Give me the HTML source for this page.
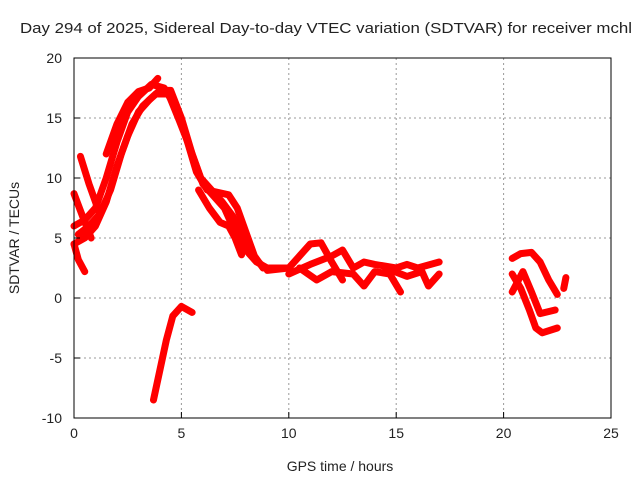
<!DOCTYPE html>
<html><head><meta charset="utf-8"><style>
body{margin:0;background:#fff}
svg text{font-family:"Liberation Sans",sans-serif;font-size:14px;fill:#222}
</style></head><body>
<svg width="640" height="480" xmlns="http://www.w3.org/2000/svg">
<rect width="640" height="480" fill="#fff"/>
<text x="20" y="33" textLength="612" lengthAdjust="spacingAndGlyphs" style="font-size:15px">Day 294 of 2025, Sidereal Day-to-day VTEC variation (SDTVAR) for receiver mchl</text>
<g id="grid"></g>
<g id="series"></g>
<rect x="74" y="58" width="537" height="360" fill="none" stroke="#000" stroke-width="1"/>
<g id="ticks"></g>
<text x="340" y="471" text-anchor="middle">GPS time / hours</text>
<text transform="translate(19,238) rotate(-90)" text-anchor="middle">SDTVAR / TECUs</text>
</svg>
<script>
const xTicks=[0,5,10,15,20,25];
const yTicks=[-10,-5,0,5,10,15,20];
const trackA=[[0,4.5],[0.5,5],[1,6],[1.5,8],[2,11],[2.5,13.5],[3,15.5],[3.5,16.5],[4,17.3],[4.5,17.3],[5,15],[5.5,12],[6,9.5],[6.5,8.5],[7,7.5],[7.5,5.5],[8,4],[8.5,3],[9,2.5],[9.5,2.5],[10,2.5]];
const trackB=[[0,6],[0.5,6.5],[1,7.5],[1.5,10],[2,13],[2.5,15.5],[3,16.8],[3.6,17.8],[4.2,17.5],[4.7,16],[5.2,13.5],[5.7,10.5],[6.2,9],[6.7,8.8],[7.2,8.6],[7.6,7.5],[8,5.5],[8.4,3.5],[8.8,2.5]];
const trackB2=[[0.2,5.3],[0.7,6],[1.2,7],[1.7,9],[2.2,12],[2.7,14.5],[3.2,16],[3.8,17],[4.4,17],[4.9,14.8],[5.4,12.5],[5.9,10],[6.4,9],[6.9,8],[7.4,6.8],[7.9,5],[8.3,3.5],[8.7,2.8]];
const trackC=[[1.5,12],[2,14.5],[2.5,16.3],[3,17.2],[3.5,17.5],[3.9,18.3]];
const trackD=[[0.3,11.8],[0.7,9.5],[1,8],[1.2,7]];
const trackE=[[0,8.7],[0.4,6.8],[0.8,5]];
const trackF=[[0,4.5],[0.2,3.2],[0.5,2.2]];
const trackG=[[3.7,-8.5],[4,-6],[4.3,-3.5],[4.6,-1.5],[5,-0.7],[5.5,-1.2]];
const trackH=[[5.8,9],[6.3,7.5],[6.8,6.3],[7.2,6],[7.5,5],[7.8,3.6]];
const trackI=[[9,2.3],[10,2.5],[10.5,3.5],[11,4.5],[11.5,4.6],[12,3],[12.5,1.5]];
const trackJ=[[10,2],[11,2.8],[12,3.5],[12.5,4],[13,2.5],[13.5,3],[14,2.8],[15,2.5],[15.5,2.8],[16,2.5],[17,3]];
const trackK=[[10.5,2.5],[11.3,1.5],[12,2.2],[13,2],[13.5,1],[14,2.2],[14.7,2],[15.2,0.5]];
const trackL=[[14.5,2.5],[15.5,1.8],[16.2,2.2],[16.5,1],[17,2]];
const trackM=[[20.4,3.3],[20.8,3.7],[21.3,3.8],[21.7,3],[22.1,1.5],[22.5,0.3]];
const trackN=[[20.4,2],[20.8,0.8],[21.2,-1],[21.5,-2.5],[21.8,-2.9],[22.5,-2.5]];
const trackO=[[20.4,0.5],[20.9,2.2],[21.3,0.5],[21.7,-1.3],[22.4,-1]];
const trackP=[[22.8,0.8],[22.9,1.7]];
const tracks=[trackA,trackB,trackB2,trackC,trackD,trackE,trackF,trackG,trackH,trackI,trackJ,trackK,trackL,trackM,trackN,trackO,trackP];
const X0=74,X1=611,Y0=418,Y1=58;
const sx=v=>X0+(v-0)/(25-0)*(X1-X0);
const sy=v=>Y0-(v+10)/(30)*(Y0-Y1);
const NS='http://www.w3.org/2000/svg';
const grid=document.getElementById('grid'),ticks=document.getElementById('ticks'),ser=document.getElementById('series');
function mk(tag,attrs,parent){const e=document.createElementNS(NS,tag);for(const k in attrs)e.setAttribute(k,attrs[k]);parent.appendChild(e);return e;}
xTicks.forEach(t=>{const x=sx(t);
 if(t>0&&t<25){const l=mk('line',{x1:x,x2:x,y1:Y1,y2:Y0,stroke:'#999','stroke-dasharray':'2,3'},grid);
 
 }
 const tk=mk('line',{x1:x,x2:x,y1:Y0,y2:Y0-6,stroke:'#000'},ticks);
 
 
 const tx=mk('text',{x:x,y:Y0+20,'text-anchor':'middle'},ticks);tx.textContent=t;
 
 });
yTicks.forEach(t=>{const y=sy(t);
 if(t>-10&&t<20){const l=mk('line',{x1:X0,x2:X1,y1:y,y2:y,stroke:'#999','stroke-dasharray':'2,3'},grid);
 
 }
 const tk=mk('line',{x1:X0,x2:X0+6,y1:y,y2:y,stroke:'#000'},ticks);
 
 
 const tx=mk('text',{x:X0-12,y:y+5,'text-anchor':'end'},ticks);tx.textContent=t;
 
 });
tracks.forEach(tr=>{
 const p=mk('polyline',{points:tr.map(d=>sx(d[0])+','+sy(d[1])).join(' '),fill:'none',stroke:'#f00','stroke-width':7,'stroke-linejoin':'round','stroke-linecap':'round'},ser);
 
 
});
</script>
</body></html>
